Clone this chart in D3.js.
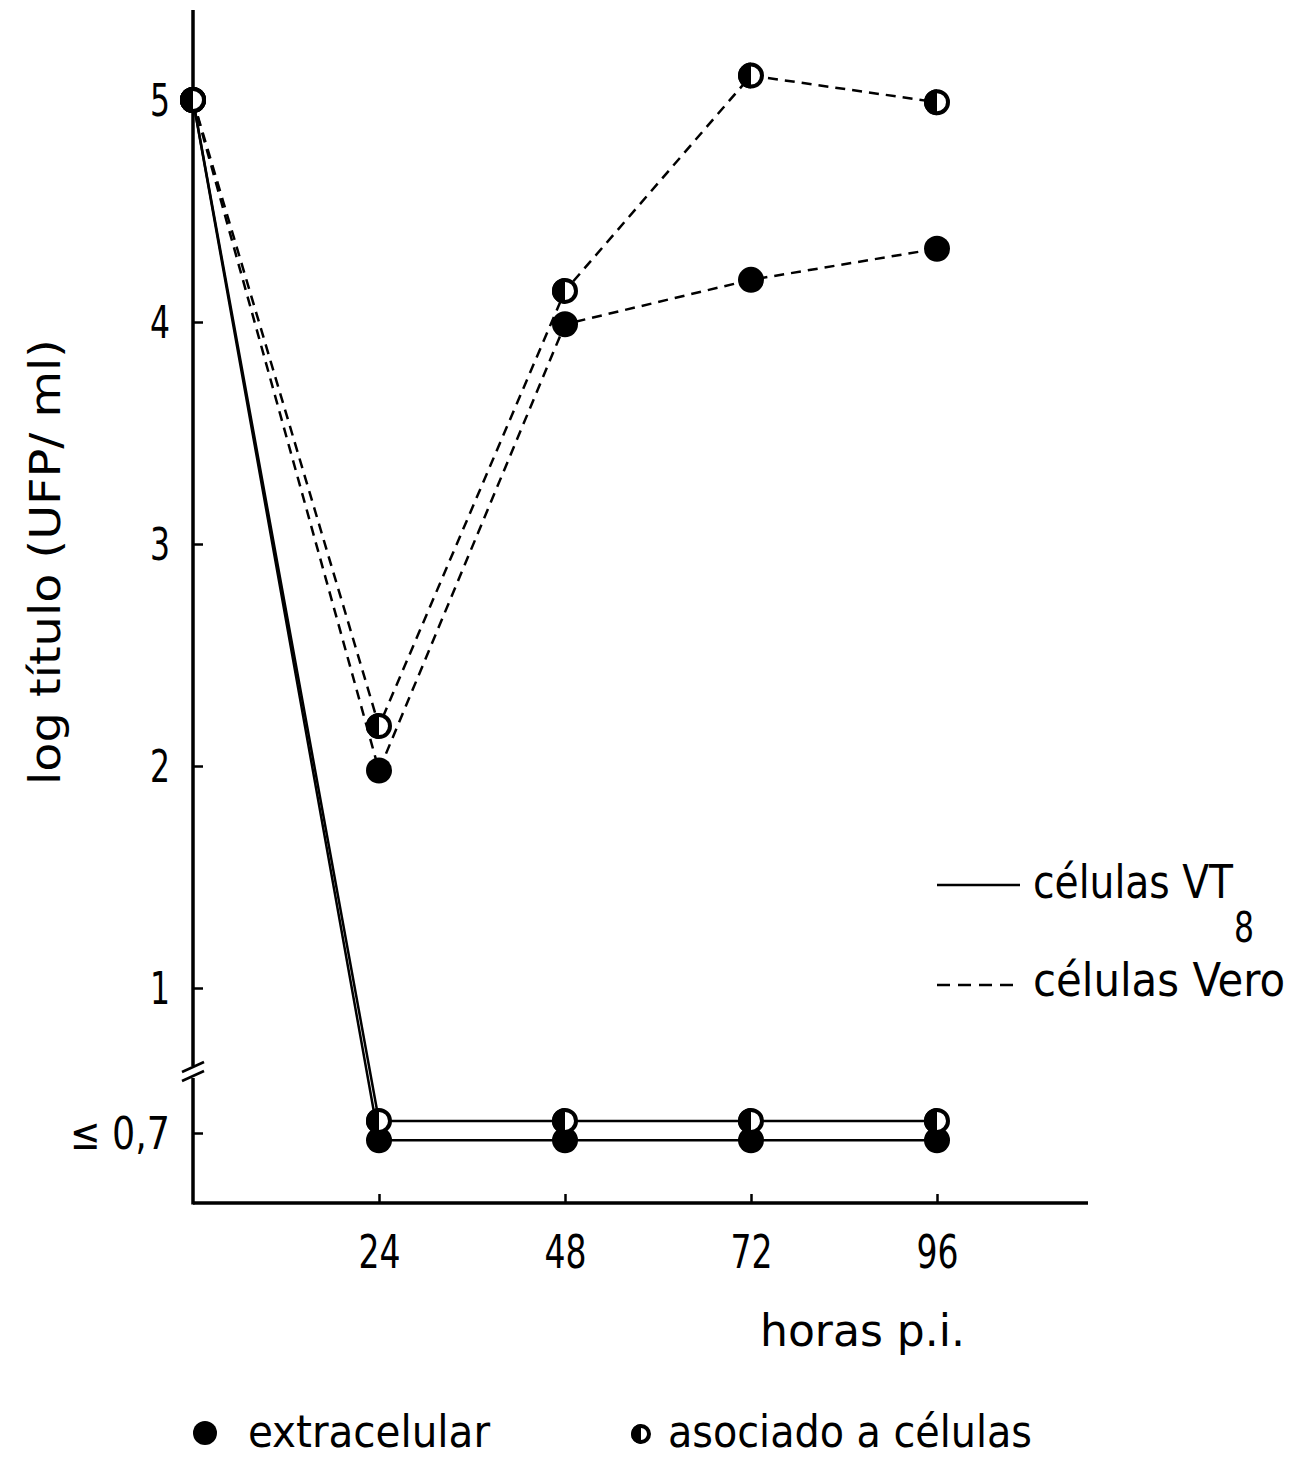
<!DOCTYPE html>
<html>
<head>
<meta charset="utf-8">
<script src="https://cdn.jsdelivr.net/npm/d3@7"></script>
<style>
  body { margin: 0; background: #fff; }
  text { font-family: "Liberation Sans Narrow", "DejaVu Sans Condensed", "DejaVu Sans", sans-serif; fill: #000; }
</style>
</head>
<body>
<svg id="chart" width="1306" height="1457"></svg>
<script>
// hours post infection
var hours = [0, 24, 48, 72, 96];
var xTicks = [24, 48, 72, 96];
var yTicks = [0.7, 1, 2, 3, 4, 5];

// log titer (UFP/ml)
var veroExtra = [5.0, 1.98, 3.99, 4.19, 4.33];
var veroCell  = [5.0, 2.18, 4.14, 5.11, 4.99];
var vt8Extra  = [5.0, 0.685, 0.685, 0.685, 0.685];   // below detection (<= 0,7)
var vt8Cell   = [5.0, 0.725, 0.725, 0.725, 0.725];

var series = [
  {name: "vt8-extra",  vals: vt8Extra,  dashed: false, half: false},
  {name: "vt8-cell",   vals: vt8Cell,   dashed: false, half: true},
  {name: "vero-extra", vals: veroExtra, dashed: true,  half: false},
  {name: "vero-cell",  vals: veroCell,  dashed: true,  half: true}
];

var svg = d3.select("#chart");
var x0 = 193, yBase = 1203;

var x = d3.scaleLinear().domain([0, 96]).range([x0, 937]);
// axis is broken between 0,7 and 1
var y = d3.scaleLinear().domain([0.7, 1, 5]).range([1133, 988, 100]);

// narrow the (condensed) lettering of the original
function narrow(sel, perChar) {
  sel.attr("textLength", function(){ return this.textContent.length * perChar; })
     .attr("lengthAdjust", "spacingAndGlyphs");
}

// axis lines (drawn by hand because of the break)
var ax = svg.append("g").attr("stroke", "#000").attr("stroke-width", 3.5).attr("fill", "none");
ax.append("line").attr("x1", x0).attr("y1", 10).attr("x2", x0).attr("y2", 1066);
ax.append("line").attr("x1", x0).attr("y1", 1078).attr("x2", x0).attr("y2", yBase + 1.5);
ax.append("line").attr("x1", x0).attr("y1", yBase).attr("x2", 1088).attr("y2", yBase);
// break marks
[1067, 1076].forEach(function(b){
  ax.append("line").attr("x1", x0 - 11).attr("y1", b + 5).attr("x2", x0 + 11).attr("y2", b - 5)
    .attr("stroke-width", 2.5);
});

// y axis ticks
var yAxis = d3.axisLeft(y).tickValues(yTicks)
  .tickSizeInner(-10).tickSizeOuter(0).tickPadding(23)
  .tickFormat(function(d){ return d < 1 ? "\u2264 0,7" : d; });
var gy = svg.append("g").attr("transform", "translate(" + x0 + ",0)").call(yAxis);
gy.select(".domain").remove();
gy.selectAll(".tick line").attr("stroke", "#000").attr("stroke-width", 2.5);
gy.selectAll(".tick text").style("font-size", "44px").attr("dy", "0.36em").call(narrow, 20);

// x axis ticks (pointing up)
var xAxis = d3.axisBottom(x).tickValues(xTicks).tickSizeInner(-9).tickSizeOuter(0).tickPadding(32);
var gx = svg.append("g").attr("transform", "translate(0," + yBase + ")").call(xAxis);
gx.select(".domain").remove();
gx.selectAll(".tick line").attr("stroke", "#000").attr("stroke-width", 2.5);
gx.selectAll(".tick text").style("font-size", "46px").call(narrow, 21);

// axis titles
svg.append("text").attr("transform", "translate(60,562) rotate(-90)")
  .attr("text-anchor", "middle").style("font-size", "42px")
  .attr("textLength", 446).attr("lengthAdjust", "spacingAndGlyphs")
  .text("log título  (UFP/ ml)");
svg.append("text").attr("x", 760).attr("y", 1346).style("font-size", "44px")
  .attr("textLength", 205).attr("lengthAdjust", "spacingAndGlyphs")
  .text("horas  p.i.");

// lines
var line = d3.line().x(function(d, i){ return x(hours[i]); }).y(function(d){ return y(d); });
svg.append("g").selectAll("path").data(series).join("path")
  .attr("d", function(s){ return line(s.vals); })
  .attr("fill", "none").attr("stroke", "#000").attr("stroke-width", 2.5)
  .attr("stroke-dasharray", function(s){ return s.dashed ? "10,7" : null; });

// markers
var r = 13;
function drawMarker(g, half, rad) {
  if (!half) {
    g.append("circle").attr("r", rad).attr("fill", "#000");
  } else {
    g.append("circle").attr("r", rad - 2).attr("fill", "#fff").attr("stroke", "#000").attr("stroke-width", 4);
    g.append("path").attr("d", d3.arc().innerRadius(0).outerRadius(rad).startAngle(Math.PI).endAngle(2 * Math.PI)()).attr("fill", "#000");
  }
}
series.filter(function(s){ return !s.half; }).concat(series.filter(function(s){ return s.half; }))
  .forEach(function(s){
    s.vals.forEach(function(v, i){
      var g = svg.append("g").attr("transform", "translate(" + x(hours[i]) + "," + y(v) + ")");
      drawMarker(g, s.half, r);
    });
  });

// legend: line styles
var lg = svg.append("g");
lg.append("line").attr("x1", 937).attr("y1", 885).attr("x2", 1020).attr("y2", 885)
  .attr("stroke", "#000").attr("stroke-width", 2.5);
lg.append("line").attr("x1", 937).attr("y1", 985).attr("x2", 1020).attr("y2", 985)
  .attr("stroke", "#000").attr("stroke-width", 2.5).attr("stroke-dasharray", "13,8");
lg.append("text").attr("x", 1033).attr("y", 898).style("font-size", "46px")
  .attr("textLength", 200).attr("lengthAdjust", "spacingAndGlyphs").text("células VT");
lg.append("text").attr("x", 1234).attr("y", 942).style("font-size", "42px")
  .attr("textLength", 20).attr("lengthAdjust", "spacingAndGlyphs").text("8");
lg.append("text").attr("x", 1033).attr("y", 996).style("font-size", "46px")
  .attr("textLength", 252).attr("lengthAdjust", "spacingAndGlyphs").text("células Vero");

// legend: markers
var mg = svg.append("g");
drawMarker(mg.append("g").attr("transform", "translate(205,1433)"), false, 12);
mg.append("text").attr("x", 248).attr("y", 1447).style("font-size", "44px")
  .attr("textLength", 242).attr("lengthAdjust", "spacingAndGlyphs").text("extracelular");
drawMarker(mg.append("g").attr("transform", "translate(641,1434)"), true, 10);
mg.append("text").attr("x", 668).attr("y", 1447).style("font-size", "44px")
  .attr("textLength", 364).attr("lengthAdjust", "spacingAndGlyphs").text("asociado a células");
</script>
</body>
</html>
